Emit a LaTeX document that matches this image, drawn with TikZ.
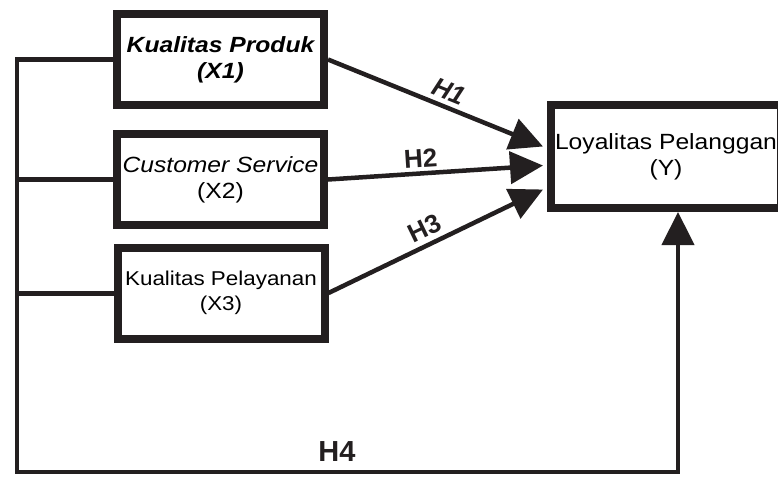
\documentclass[tikz,border=0pt]{standalone}
\usepackage{fontspec}
\setmainfont{Liberation Sans}[FakeStretch=1.12]
\newfontfamily\rotulo{Liberation Sans}
\usepackage{tikz}
\usetikzlibrary{calc,positioning,arrows.meta}
\definecolor{traco}{HTML}{231F20}

\begin{document}
\begin{tikzpicture}[x=1pt,y=-1pt,
    caixa/.style={draw=traco, line width=8pt, fill=white, minimum width=#1, minimum height=91pt,
      align=center, inner sep=0pt, font=\fontsize{22}{26}\selectfont},
    caixa/.default=207pt,
    seta/.style={-{Triangle[length=33pt,width=32pt]}, line width=4.5pt, traco},
    ligacao/.style={line width=5pt, traco},
    hip/.style={font=\rotulo\bfseries\fontsize{26}{26}\selectfont, inner sep=1pt}]
  \useasboundingbox (0,0) rectangle (778,477);
  \node[caixa] (x1) at (220.5,59.5) {\bfseries\itshape Kualitas Produk\\\bfseries\itshape (X1)};
  \node[caixa] (x2) at (220.5,179.5) {\itshape Customer Service\\(X2)};
  \node[caixa, font=\fontsize{20}{25}\selectfont] (x3) at (221,293) {Kualitas Pelayanan\\(X3)};
  \node[caixa=230pt, minimum height=103pt] (y) at (666,156.5) {Loyalitas Pelanggan\\(Y)};
  \coordinate (canto) at (17,472);
  \coordinate (alvo) at ($(y.south)+(12,0)$);
  % barramento da esquerda
  \draw[ligacao] (x2.west) -- (x2.west -| canto);
  \draw[ligacao] (x3.west) -- (x3.west -| canto);
  \draw[seta, line width=4.5pt] (x1.west) -| (canto) -| (alvo)
    node[pos=0.242, above=5pt, font=\rotulo\bfseries\fontsize{29}{29}\selectfont] (h4) {H4};
  % hipoteses
  \draw[seta] (x1.east) -- ($(y.west)+(-4,-10)$) node[hip, midway, sloped, above=4pt, xshift=8pt] (h1) {\itshape H1};
  \draw[seta] (x2.east) -- ($(y.west)+(-4,9)$) node[hip, midway, sloped, above=3pt, xshift=-14pt] (h2) {H2};
  \draw[seta] (x3.east) -- ($(y.west)+(-4,33)$) node[hip, midway, sloped, above=4pt, xshift=-4pt] (h3) {H3};
\end{tikzpicture}
\end{document}
